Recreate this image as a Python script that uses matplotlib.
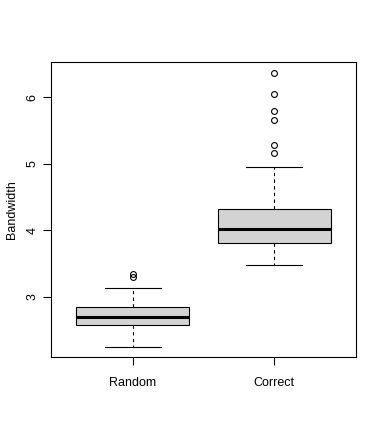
import matplotlib
matplotlib.use("Agg")
import matplotlib.pyplot as plt

# values
groups = ["Random", "Correct"]
whislo = [2.24, 3.48]
q1 = [2.57, 3.80]
med = [2.69, 4.02]
q3 = [2.84, 4.32]
whishi = [3.13, 4.95]
fliers = [[3.30, 3.34], [5.16, 5.28, 5.65, 5.79, 6.05, 6.36]]

plt.rcParams["font.family"] = ["Liberation Sans", "DejaVu Sans"]

stats = []
for i in range(len(groups)):
        stats.append({"label": groups[i], "whislo": whislo[i], "q1": q1[i], "med": med[i],
                      "q3": q3[i], "whishi": whishi[i], "fliers": fliers[i]})

fig = plt.figure(figsize=(3.82, 4.36), dpi=100)
ax = fig.add_axes([51 / 382, 1 - 357 / 436, 305 / 382, 295 / 436])
ax.bxp(stats, positions=[1, 2], widths=0.8, patch_artist=True, capwidths=0.4,
       boxprops=dict(facecolor="#d3d3d3", edgecolor="black", linewidth=0.8),
       medianprops=dict(color="black", linewidth=2.2, solid_capstyle="butt"),
       whiskerprops=dict(color="black", linewidth=0.8, linestyle=(0, (3, 3))),
       capprops=dict(color="black", linewidth=0.8),
       flierprops=dict(marker="o", markerfacecolor="none", markeredgecolor="black",
                       markersize=4.2, markeredgewidth=0.8))

ax.set_xlim(0.42, 2.58)
ax.set_ylim(2.09, 6.53)
ax.set_yticks([3, 4, 5, 6])
ax.set_yticklabels(["3", "4", "5", "6"], rotation=90, va="center")
ax.tick_params(direction="out", length=5.5, width=0.8, labelsize=9)
ax.tick_params(axis="x", pad=9)
ax.tick_params(axis="y", pad=3.5)
ax.set_ylabel("Bandwidth", fontsize=9, labelpad=6)
for s in ax.spines.values():
        s.set_linewidth(0.8)

fig.savefig("out.png", dpi=100)
